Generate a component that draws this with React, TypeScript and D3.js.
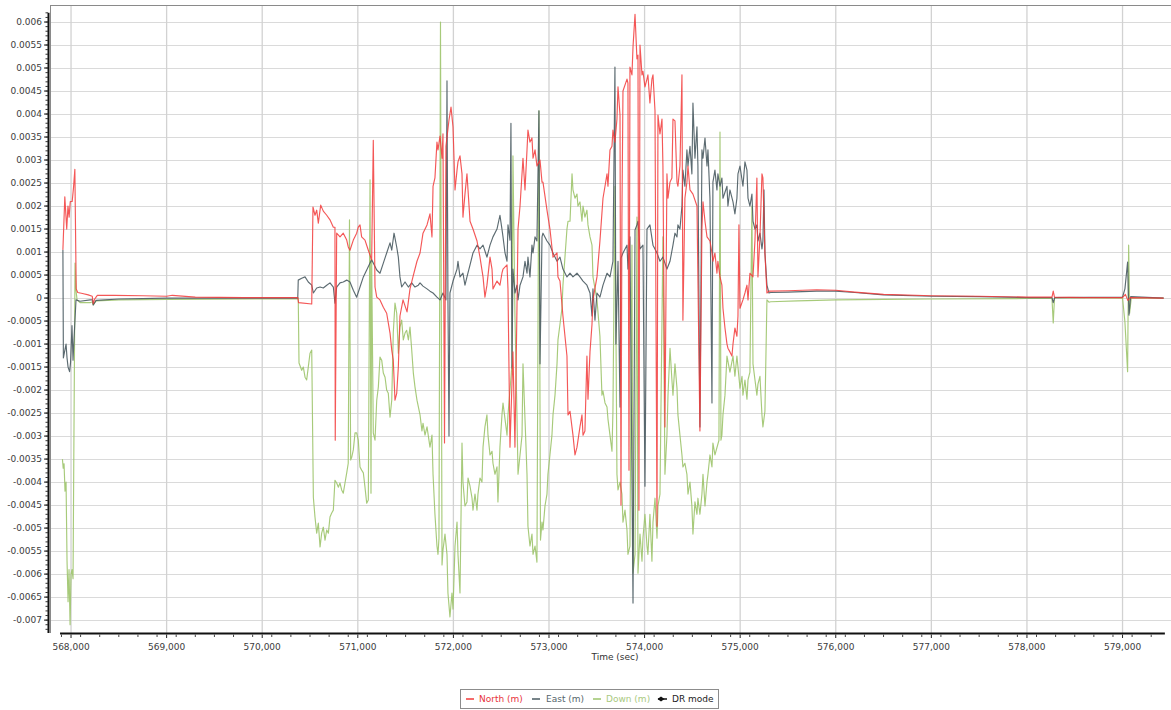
import React from "react";
import * as d3 from "d3";

type P = [number, number];

const xTickValues = [568000, 569000, 570000, 571000, 572000, 573000, 574000, 575000, 576000, 577000, 578000, 579000];
const yTickValues = [0.006, 0.0055, 0.005, 0.0045, 0.004, 0.0035, 0.003, 0.0025, 0.002, 0.0015, 0.001, 0.0005, 0,
  -0.0005, -0.001, -0.0015, -0.002, -0.0025, -0.003, -0.0035, -0.004, -0.0045, -0.005, -0.0055, -0.006, -0.0065, -0.007];

const seriesNames = ["North (m)", "East (m)", "Down (m)", "DR mode"];

const north: P[] = [
  [567915, 0.00105], [567935, 0.0022], [567955, 0.0015], [567968, 0.002], [567980, 0.00176], [567992, 0.0021],
  [568012, 0.0021], [568026, 0.0024], [568040, 0.0028], [568054, 0.0002], [568070, 0.00012], [568120, 0.0001],
  [568180, 0.00007], [568222, 0.00004], [568232, -0.00012], [568248, -0.00002], [568275, 0.00006], [568450, 0.00006],
  [568750, 0.00005], [569000, 0.00004], [569060, 0.00006], [569300, 0.00002], [569800, 0.00001], [570372, 0.00001],
  [570380, -0.0001], [570518, -0.00013], [570531, 0.00198], [570552, 0.0018], [570570, 0.00191], [570587, 0.00163],
  [570612, 0.00202], [570639, 0.00189], [570675, 0.0018], [570709, 0.0017], [570744, 0.00154], [570761, 0.00154],
  [570764, -0.00309], [570779, 0.00141], [570814, 0.00133], [570848, 0.00141], [570884, 0.00126], [570900, 0.00111],
  [570918, 0.00104], [570953, 0.00126], [570988, 0.00141], [571005, 0.00154], [571023, 0.00159], [571040, 0.00133],
  [571075, 0.00126], [571110, 0.00104], [571145, 0.00083], [571162, 0.00343], [571180, 0.00024], [571198, 0.00002],
  [571232, -0.00004], [571267, -0.0002], [571302, -0.00033], [571337, -0.00076], [571355, -0.00113], [571371, -0.00135],
  [571389, -0.00222], [571407, -0.00207], [571424, -0.0015], [571441, -0.00039], [571473, -0.00004], [571515, -0.0003],
  [571546, 0.0002], [571577, 0.00046], [571619, 0.0008], [571651, 0.00098], [571682, 0.00141], [571724, 0.00159],
  [571755, 0.00183], [571776, 0.00133], [571787, 0.00243], [571807, 0.00261], [571828, 0.00339], [571839, 0.00322],
  [571860, 0.00352], [571881, 0.00304], [571891, 0.00357], [571907, -0.00315], [571922, 0.0033], [571954, 0.00387],
  [571975, 0.00415], [571996, 0.00372], [572017, 0.00235], [572038, 0.00278], [572048, 0.00296], [572069, 0.00309],
  [572090, 0.0027], [572100, 0.00176], [572121, 0.00226], [572142, 0.0027], [572153, 0.00235], [572174, 0.00167],
  [572205, 0.0015], [572247, 0.00124], [572278, 0.00089], [572310, 0.00046], [572330, 0.00002], [572351, 0.00028],
  [572383, 0.00089], [572404, 0.00063], [572414, 0.0002], [572456, 0.00037], [572487, 0.00028], [572508, 0.00054],
  [572519, 0.00063], [572561, 0.00072], [572571, 0.0002], [572592, -0.00324], [572623, -0.00117], [572644, -0.00324],
  [572665, -0.00022], [572676, 0.0015], [572697, 0.002], [572728, 0.00304], [572749, 0.00235], [572770, 0.00322],
  [572780, 0.00365], [572801, 0.00339], [572822, 0.00348], [572833, 0.00304], [572854, 0.00322], [572874, 0.00287],
  [572906, 0.003], [572927, 0.00252], [572937, 0.00252], [572979, 0.00191], [573010, 0.0015], [573042, 0.00089],
  [573084, 0.00098], [573094, 0.00046], [573115, 0.00037], [573146, -0.00039], [573188, -0.00126], [573199, -0.00254],
  [573220, -0.00246], [573251, -0.00298], [573272, -0.00341], [573293, -0.00324], [573324, -0.0028], [573345, -0.00254],
  [573356, -0.00298], [573376, -0.00289], [573397, -0.00126], [573408, -0.0022], [573429, -0.00117], [573450, -0.00057],
  [573460, -0.00004], [573502, 0.00046], [573533, 0.00124], [573565, 0.00217], [573586, 0.00243], [573607, 0.0027],
  [573617, 0.00243], [573638, 0.00322], [573659, 0.0033], [573669, 0.00365], [573690, 0.00339], [573711, 0.00389],
  [573722, 0.00459], [573743, 0.00398], [573753, -0.0045], [573763, 0.00176], [573774, 0.0045], [573816, 0.00476],
  [573826, 0.00467], [573837, -0.00374], [573847, 0.00502], [573868, 0.00485], [573879, 0.00546], [573900, 0.00617],
  [573920, 0.0052], [573931, 0.00528], [573941, -0.00461], [573952, 0.0055], [573973, 0.00485], [573983, 0.00493],
  [574004, 0.00459], [574025, 0.00476], [574035, 0.00485], [574056, 0.00424], [574077, 0.00476], [574088, 0.00485],
  [574109, 0.00407], [574130, -0.00496], [574140, 0.00398], [574161, 0.00357], [574182, 0.00389], [574192, 0.00287],
  [574213, -0.0028], [574234, 0.0027], [574245, 0.00217], [574266, 0.00252], [574286, 0.00261], [574297, 0.00389],
  [574318, 0.00385], [574339, 0.00252], [574349, 0.00243], [574370, 0.00287], [574391, 0.00485], [574401, -0.00048],
  [574422, 0.00217], [574443, 0.00252], [574454, 0.00287], [574475, 0.00235], [574506, 0.00226], [574548, 0.002],
  [574579, -0.00289], [574600, 0.0015], [574611, 0.00209], [574632, 0.00167], [574653, 0.00133], [574684, 0.00124],
  [574705, 0.00098], [574715, 0.0008], [574736, 0.00098], [574757, 0.00054], [574767, 0.0008], [574789, 0.00046],
  [574809, 0.00028], [574820, -0.00022], [574841, -0.00065], [574862, -0.001], [574872, -0.00109], [574893, -0.00117],
  [574914, -0.00126], [574925, -0.001], [574945, -0.00065], [574966, -0.00083], [574977, -0.00039], [574987, 0.00159],
  [574998, -0.00022], [575029, -0.00004], [575050, 0.00011], [575071, 0.00028], [575082, -0.00004], [575102, 0.00054],
  [575134, 0.00046], [575155, 0.00126], [575175, 0.00261], [575186, 0.00046], [575207, 0.00133], [575228, 0.0027],
  [575238, 0.00261], [575259, 0.00098], [575280, 0.00011], [575301, 0.00015],
  [575320, 0.00015], [575500, 0.00016], [575800, 0.00018], [576000, 0.00017], [576200, 0.00013], [576500, 0.00008],
  [577000, 0.00005], [577500, 0.00004], [578000, 0.00002], [578262, 0.00002], [578275, 0.00015], [578288, 0.00002],
  [578600, 0.00001], [579000, 0.00001], [579030, 0.00008], [579055, -0.00005], [579080, 0.00001], [579430, 0],
];

const east: P[] = [
  [567915, 0.00105], [567920, -0.0013], [567948, -0.001], [567958, -0.0013], [567969, -0.0015], [567985, -0.0016],
  [567995, -0.0014], [568010, -0.0006], [568021, -0.00135], [568031, -0.0009], [568052, -0.00004], [568094, -0.00007],
  [568200, -0.00004], [568225, -0.00004], [568232, -0.00015], [568262, -0.00005], [568500, -0.00002], [569000, 0],
  [570372, 0],
  [570377, 0.00039], [570413, 0.00043], [570448, 0.00046], [570482, 0.00035], [570518, 0.00028], [570535, 0.00011],
  [570570, 0.00022], [570605, 0.00024], [570639, 0.00022], [570675, 0.00028], [570709, 0.00033], [570744, 0.00024],
  [570761, -0.00011], [570779, 0.00024], [570814, 0.00033], [570848, 0.00035], [570884, 0.00039], [570918, 0.00035],
  [570953, 0.00017], [570988, 0.00002], [571023, 0.00024], [571058, 0.00046], [571093, 0.00061], [571128, 0.00076],
  [571145, 0.00083], [571162, 0.00076], [571198, 0.00061], [571232, 0.00054], [571267, 0.00076], [571302, 0.00098],
  [571337, 0.0012], [571355, 0.00104], [571379, 0.00141], [571407, 0.00111], [571424, 0.00089], [571441, 0.00046],
  [571459, 0.00024], [571494, 0.00035], [571529, 0.00024], [571564, 0.00033], [571598, 0.00024], [571633, 0.00028],
  [571651, 0.00033], [571682, 0.00026], [571724, 0.0002], [571755, 0.00015], [571787, 0.00011], [571828, 0.00002],
  [571860, -0.00004], [571891, 0.00011], [571922, -0.00004], [571933, 0.00472], [571943, -0.00004], [571954, -0.003],
  [571964, 0.00011], [571996, 0.00037], [572038, 0.00063], [572048, 0.0008], [572069, 0.00046], [572100, 0.00054],
  [572121, 0.00028], [572142, 0.00046], [572174, 0.00072], [572205, 0.00098], [572247, 0.00115], [572278, 0.00107],
  [572310, 0.00115], [572351, 0.00089], [572383, 0.00115], [572414, 0.00133], [572456, 0.0015], [572487, 0.0018],
  [572508, 0.0015], [572519, 0.00133], [572540, 0.00098], [572561, 0.0008], [572571, 0.00159], [572592, 0.00126],
  [572602, 0.0038], [572613, -0.00152], [572623, 0.00063], [572644, 0.00011], [572665, 0.00028], [572676, -0.00004],
  [572697, 0.00028], [572728, 0.00046], [572749, 0.0008], [572770, 0.00054], [572780, 0.00089], [572801, 0.00046],
  [572822, 0.00115], [572833, 0.00098], [572854, 0.00133], [572874, 0.00124], [572895, 0.00407], [572906, -0.00143],
  [572927, 0.00133], [572937, 0.00141], [572979, 0.00124], [573010, 0.00115], [573042, 0.00098], [573084, 0.0008],
  [573115, 0.00089], [573146, 0.00063], [573188, 0.00046], [573220, 0.00054], [573251, 0.00046], [573293, 0.00054],
  [573324, 0.00046], [573356, 0.00037], [573397, 0.00028], [573429, 0.00011], [573450, -0.00039], [573460, 0.0002],
  [573481, -0.00048], [573502, 0.00011], [573533, 0.00002], [573565, 0.00028], [573607, 0.00054], [573638, 0.00046],
  [573669, 0.0008], [573690, 0.00502], [573700, -0.001], [573722, 0.0008], [573743, -0.00237], [573753, 0.00087],
  [573774, 0.00098], [573816, 0.00115], [573826, 0.00063], [573847, 0.00133], [573879, -0.00663], [573900, 0.00148],
  [573920, 0.00159], [573931, 0.00167], [573952, 0.00107], [573983, 0.00115], [574004, -0.00409], [574025, 0.0015],
  [574056, 0.00159], [574088, 0.00115], [574130, 0.00098], [574161, 0.0008], [574192, 0.00089], [574234, 0.00063],
  [574266, 0.0008], [574297, 0.00115], [574318, 0.00141], [574339, 0.00133], [574349, 0.00159], [574370, 0.0015],
  [574391, 0.002], [574401, 0.00278], [574422, 0.00243], [574443, 0.00322], [574454, 0.00287], [574475, 0.0033],
  [574495, 0.0027], [574506, 0.00424], [574527, 0.00304], [574548, 0.00372], [574558, 0.00287], [574579, -0.0028],
  [574600, 0.00322], [574611, 0.00304], [574632, 0.00348], [574653, 0.00287], [574663, 0.00322], [574684, 0.00217],
  [574705, -0.00228], [574715, 0.00252], [574736, 0.00278], [574757, 0.00235], [574767, 0.0027], [574789, 0.00243],
  [574809, 0.00261], [574820, 0.00217], [574862, 0.00243], [574872, 0.002], [574893, 0.00235], [574925, 0.00209],
  [574945, 0.00183], [574966, 0.00217], [574977, 0.0027], [574998, 0.00287], [575029, 0.00243], [575050, 0.00296],
  [575071, 0.00278], [575082, 0.00217], [575102, 0.002], [575123, 0.00226], [575134, 0.00167], [575155, 0.0015],
  [575175, 0.00159], [575186, 0.00124], [575207, 0.00141], [575228, 0.00107], [575238, 0.00124], [575249, 0.00235],
  [575259, 0.00098], [575280, 0.00028], [575301, 0.00011],
  [575320, 0.00012], [575500, 0.00013], [575800, 0.00015], [576000, 0.00015], [576200, 0.00012], [576500, 0.00007],
  [577000, 0.00004], [577500, 0.00003], [578000, 0.00001], [578262, 0.00001], [578275, -0.0001], [578290, 0.00001],
  [579000, 0.00002], [579025, 0.0002], [579053, 0.00078], [579067, -0.00037], [579085, 0.00003], [579430, 0],
];

const down: P[] = [
  [567910, -0.0035], [567918, -0.0037], [567927, -0.0036], [567937, -0.0042], [567948, -0.004], [567958, -0.0057],
  [567969, -0.0066], [567979, -0.0059], [567990, -0.0071], [568000, -0.006], [568010, -0.0059], [568021, -0.0061],
  [568042, 0.00076], [568052, 0.00017], [568063, -0.00004], [568094, -0.0001], [568199, -0.0001], [568225, -0.00008],
  [568232, -0.00015], [568262, -0.00006], [568500, -0.00004], [569000, -0.00003], [570000, -0.00002], [570372, -0.00002],
  [570377, 0], [570385, -0.00141], [570413, -0.00157], [570430, -0.0015], [570448, -0.00172], [570465, -0.00178],
  [570482, -0.0015], [570500, -0.0012], [570518, -0.00113], [570535, -0.00433], [570552, -0.00476], [570570, -0.00511],
  [570587, -0.00489], [570605, -0.00541], [570622, -0.00511], [570639, -0.00498], [570657, -0.00526], [570675, -0.00504],
  [570692, -0.00511], [570709, -0.00476], [570727, -0.00467], [570744, -0.00461], [570761, -0.00396], [570779, -0.00402],
  [570796, -0.00411], [570814, -0.00402], [570831, -0.00417], [570848, -0.00424], [570866, -0.00402], [570884, -0.0038],
  [570900, -0.00359], [570913, 0.0017], [570925, -0.00352], [570936, -0.00346], [570953, -0.0033], [570971, -0.00293],
  [570988, -0.00293], [571005, -0.00309], [571023, -0.00367], [571040, -0.00374], [571058, -0.0038], [571075, -0.00411],
  [571093, -0.00446], [571110, -0.00439], [571128, 0.00257], [571138, -0.00424], [571145, 0.00083], [571162, -0.00293],
  [571180, -0.00309], [571198, -0.00222], [571215, -0.00193], [571232, -0.00128], [571250, -0.00135], [571267, -0.00163],
  [571285, -0.00172], [571302, -0.002], [571319, -0.00207], [571337, -0.00259], [571355, -0.00222], [571371, -0.00076],
  [571389, -0.00011], [571407, -0.00033], [571424, -0.0012], [571441, -0.00063], [571459, -0.00048], [571476, -0.00091],
  [571494, -0.00076], [571511, -0.0007], [571529, -0.00091], [571546, -0.00063], [571564, -0.00113], [571581, -0.00163],
  [571598, -0.00193], [571619, -0.00222], [571651, -0.00254], [571671, -0.00289], [571682, -0.00272], [571703, -0.00298],
  [571724, -0.0028], [571755, -0.00324], [571776, -0.00298], [571787, -0.00383], [571807, -0.0047], [571828, -0.00539],
  [571839, -0.00557], [571849, -0.00522], [571865, 0.006], [571881, -0.0058], [571891, -0.00548], [571912, -0.00513],
  [571933, -0.00557], [571943, -0.00641], [571964, -0.00693], [571985, -0.00641], [571996, -0.00676], [572017, -0.00539],
  [572038, -0.00487], [572048, -0.00557], [572069, -0.00641], [572090, -0.00315], [572100, -0.004], [572121, -0.00452],
  [572142, -0.00443], [572153, -0.00391], [572174, -0.00409], [572195, -0.00435], [572205, -0.00461], [572226, -0.00426],
  [572247, -0.00461], [572257, -0.00426], [572278, -0.00391], [572299, -0.004], [572310, -0.00324], [572330, -0.0028],
  [572351, -0.00254], [572362, -0.00298], [572383, -0.00341], [572404, -0.00333], [572414, -0.00359], [572435, -0.00383],
  [572456, -0.00367], [572466, -0.00443], [572487, -0.00324], [572508, -0.00254], [572519, -0.00228], [572540, -0.00263],
  [572561, -0.00298], [572571, -0.00254], [572592, -0.002], [572613, -0.00143], [572623, 0.00309], [572644, -0.00039],
  [572665, -0.00254], [572676, -0.00383], [572697, -0.00341], [572718, -0.00298], [572728, -0.00143], [572749, -0.00263],
  [572770, -0.00383], [572780, -0.00496], [572801, -0.00539], [572822, -0.00513], [572833, -0.00557], [572854, -0.00539],
  [572874, -0.00574], [572895, 0.00407], [572911, -0.00526], [572927, -0.00487], [572937, -0.00504], [572958, -0.00452],
  [572979, -0.00426], [572989, -0.00383], [573010, -0.00341], [573031, -0.00298], [573042, -0.00254], [573063, -0.00211],
  [573084, -0.00143], [573094, -0.00091], [573115, -0.00057], [573136, -0.00022], [573146, 0.00028], [573167, 0.00089],
  [573188, 0.0015], [573199, 0.00167], [573220, 0.00167], [573241, 0.0027], [573251, 0.00235], [573272, 0.00217],
  [573293, 0.00226], [573303, 0.002], [573324, 0.00209], [573345, 0.00167], [573356, 0.002], [573376, 0.00176],
  [573397, 0.00191], [573408, 0.00159], [573429, 0.00133], [573450, 0.00115], [573460, 0.00046], [573502, -0.00004],
  [573533, -0.00083], [573554, -0.00211], [573565, -0.00202], [573586, -0.00228], [573607, -0.00237], [573617, -0.00263],
  [573638, -0.00298], [573659, -0.00333], [573669, -0.00246], [573690, 0.00243], [573711, -0.00383], [573722, -0.00417],
  [573743, -0.004], [573763, -0.00426], [573774, -0.00487], [573795, -0.00461], [573816, -0.00504], [573826, -0.00557],
  [573847, -0.00539], [573868, 0.00115], [573879, -0.00598], [573900, -0.00557], [573920, 0.00176], [573931, -0.00598],
  [573952, -0.00513], [573973, -0.00572], [573983, -0.00522], [574004, -0.0047], [574025, -0.00539], [574035, -0.00557],
  [574056, -0.0047], [574077, -0.00572], [574088, -0.00487], [574109, -0.00435], [574130, -0.00522], [574140, -0.00452],
  [574161, -0.00426], [574192, 0.00133], [574213, -0.00383], [574234, -0.00298], [574245, -0.00211], [574266, -0.00109],
  [574286, -0.00178], [574297, -0.00211], [574318, -0.00143], [574339, -0.00196], [574349, -0.00254], [574370, -0.00298],
  [574391, -0.00341], [574401, -0.00367], [574422, -0.00359], [574443, -0.00383], [574454, -0.00426], [574475, -0.004],
  [574495, -0.00452], [574506, -0.00513], [574527, -0.00443], [574548, -0.0047], [574558, -0.00435], [574579, -0.0047],
  [574600, -0.00426], [574611, -0.00383], [574632, -0.00452], [574653, -0.004], [574663, -0.00383], [574684, -0.00341],
  [574705, -0.00367], [574715, -0.00315], [574736, -0.00341], [574778, -0.00309], [574789, 0.00361], [574799, -0.00309],
  [574809, -0.00298], [574820, -0.00254], [574841, -0.00211], [574862, -0.00126], [574893, -0.00161], [574925, -0.00126],
  [574945, -0.0017], [574966, -0.00126], [574998, -0.00196], [575019, -0.0017], [575029, -0.00211], [575050, -0.00178],
  [575071, -0.0022], [575082, -0.00178], [575102, -0.00161], [575123, 0.002], [575134, -0.00143], [575155, -0.00178],
  [575175, -0.00211], [575186, -0.00187], [575207, -0.0017], [575228, -0.00254], [575238, -0.0028], [575259, -0.00246],
  [575280, -0.00004], [575301, -0.00009],
  [575320, -0.00008], [575600, -0.00006], [576000, -0.00004], [576500, -0.00003], [577000, -0.00002], [578000, -0.00001],
  [578262, -0.00001], [578275, -0.00054], [578288, -0.00001], [578300, 0.00001], [579000, 0], [579025, -0.00052],
  [579053, -0.0016], [579064, 0.00115], [579074, -0.00033], [579091, 0], [579430, 0],
];

const COLORS = { north: "#f23a3a", east: "#4a5b62", down: "#9dc46c", dr: "#111111" };
const FONT = "'DejaVu Sans', Verdana, sans-serif";

export default function App() {
  const W = 1171;
  const H = 710;
  const left = 50, right = 1171, top = 5, bottom = 633;
  const x = d3.scaleLinear().domain([567780, 579507]).range([left, right]);
  const y = d3.scaleLinear().domain([-0.00728, 0.00637]).range([bottom, top]);
  const line = d3.line<P>().x((d) => x(d[0])).y((d) => y(d[1]));
  const fmtX = d3.format(",");
  const fmtY = (v: number) => String(+v.toFixed(4));

  const minorY = d3.range(-72, 63).map((i) => i / 10000);
  const minorX = d3.range(567900, 579500, 200);

  const legendItems = [
    { name: seriesNames[0], color: COLORS.north, text: "#e8323c", lx: 466, tx: 479 },
    { name: seriesNames[1], color: COLORS.east, text: "#56666c", lx: 532, tx: 546 },
    { name: seriesNames[2], color: COLORS.down, text: "#a9c97e", lx: 593, tx: 606 },
  ];

  return (
    <svg width={W} height={H} style={{ position: "absolute", left: 0, top: 0, background: "#fff" }}>
      {/* grid */}
      {yTickValues.map((v) => (
        <line key={"gy" + v} x1={left} x2={right} y1={Math.round(y(v)) + 0.5} y2={Math.round(y(v)) + 0.5} stroke="#dadada" strokeWidth={1} />
      ))}
      {xTickValues.map((v) => (
        <line key={"gx" + v} x1={x(v)} x2={x(v)} y1={top} y2={bottom} stroke="#d2d2d2" strokeWidth={1.3} />
      ))}
      {/* frame */}
      <line x1={left} x2={right} y1={top + 0.5} y2={top + 0.5} stroke="#8a8a8a" strokeWidth={1} />
      <line x1={left + 0.5} x2={left + 0.5} y1={top} y2={bottom} stroke="#8a8a8a" strokeWidth={1} />

      {/* series */}
      <g fill="none" strokeWidth={1.15} strokeLinejoin="round">
        <path d={line(down) || ""} stroke={COLORS.down} strokeOpacity={0.9} />
        <path d={line(east) || ""} stroke={COLORS.east} strokeOpacity={0.9} />
        <path d={line(north) || ""} stroke={COLORS.north} strokeOpacity={0.85} />
      </g>

      {/* y axis */}
      <line x1={48.5} x2={48.5} y1={y(0.0062)} y2={bottom} stroke="#111" strokeWidth={2} />
      {minorY.map((v) => (
        <line key={"my" + v} x1={45.5} x2={48} y1={y(v)} y2={y(v)} stroke="#333" strokeWidth={1} />
      ))}
      {yTickValues.map((v) => (
        <g key={"ty" + v}>
          <line x1={44} x2={48} y1={y(v)} y2={y(v)} stroke="#222" strokeWidth={1} />
          <text x={42} y={y(v)} dy="0.35em" textAnchor="end" fontFamily={FONT} fontSize={9} fill="#3c3c3c">
            {fmtY(v)}
          </text>
        </g>
      ))}

      {/* x axis */}
      <line x1={x(567885)} x2={x(579443)} y1={bottom + 0.5} y2={bottom + 0.5} stroke="#111" strokeWidth={2} />
      {minorX.map((v) => (
        <line key={"mx" + v} x1={x(v)} x2={x(v)} y1={bottom + 1.5} y2={bottom + 4} stroke="#444" strokeWidth={1} />
      ))}
      {xTickValues.map((v) => (
        <g key={"tx" + v}>
          <line x1={x(v)} x2={x(v)} y1={bottom + 1.5} y2={bottom + 5} stroke="#222" strokeWidth={1} />
          <text x={x(v)} y={650} textAnchor="middle" fontFamily={FONT} fontSize={9} fill="#3c3c3c">
            {fmtX(v)}
          </text>
        </g>
      ))}
      <text x={615} y={660} textAnchor="middle" fontFamily={FONT} fontSize={9} fill="#333">
        Time (sec)
      </text>

      {/* legend */}
      <rect x={460.5} y={689.5} width={258} height={19} fill="#fff" stroke="#8c8c8c" strokeWidth={1} />
      {legendItems.map((it) => (
        <g key={it.name}>
          <line x1={it.lx} x2={it.lx + 8} y1={699} y2={699} stroke={it.color} strokeWidth={1.5} />
          <text x={it.tx} y={702} fontFamily={FONT} fontSize={9} fill={it.text}>
            {it.name}
          </text>
        </g>
      ))}
      <g>
        <line x1={658} x2={667} y1={699} y2={699} stroke={COLORS.dr} strokeWidth={1.5} />
        <path d="M657.5,699 L661,696.5 L664.5,699 L661,701.5 Z" fill={COLORS.dr} />
        <text x={672} y={702} fontFamily={FONT} fontSize={9} fill="#222">
          {seriesNames[3]}
        </text>
      </g>
    </svg>
  );
}
